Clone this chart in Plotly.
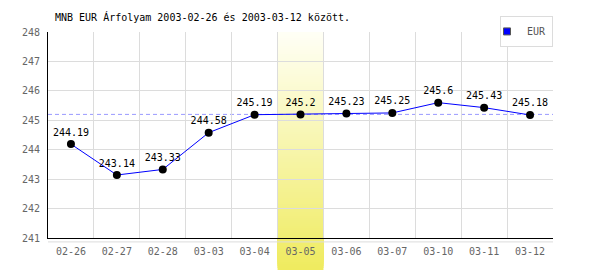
import plotly.graph_objects as go

# ---- data ----
dates = ["02-26", "02-27", "02-28", "03-03", "03-04", "03-05",
         "03-06", "03-07", "03-10", "03-11", "03-12"]
values = [244.19, 243.14, 243.33, 244.58, 245.19, 245.2,
          245.23, 245.25, 245.6, 245.43, 245.18]
series_name = "EUR"
highlight = "03-05"
title_text = "MNB EUR Árfolyam 2003-02-26 és 2003-03-12 között."
y_ticks = [241, 242, 243, 244, 245, 246, 247, 248]

FONT = "DejaVu Sans Mono"
GRID = "#dcdcdc"

n = len(dates)
hi = dates.index(highlight)

fig = go.Figure()

# highlight band with vertical gradient (overlapping strips on whole pixels)
PLOT_H = 206
N = 119
ytop, ybot = 1.0, -32 / PLOT_H
c_top = (255, 255, 246)
c_bot = (239, 235, 94)
for i in reversed(range(N)):
    t = (i + 0.5) / N
    col = tuple(round(c_top[k] + (c_bot[k] - c_top[k]) * t) for k in range(3))
    y0 = ytop - (ytop - ybot) * (i + 1) / N
    fig.add_shape(type="rect", xref="x", yref="paper",
                  x0=hi - 0.5, x1=hi + 0.5, y0=y0, y1=ytop,
                  fillcolor="rgb(%d,%d,%d)" % col, line=dict(width=0),
                  layer="between")

# dashed reference line at the highlighted day's value
fig.add_shape(type="line", xref="paper", yref="y", x0=0, x1=1,
              y0=values[hi], y1=values[hi],
              line=dict(color="#9a9aff", width=1, dash="4px,3px"),
              layer="between")

# thin gray line below the x axis
fig.add_shape(type="line", xref="paper", yref="paper", x0=0, x1=1,
              y0=-0.019, y1=-0.019, line=dict(color=GRID, width=1))

fig.add_trace(go.Scatter(
    x=dates, y=values, mode="lines+markers+text",
    text=[f"{v:g}" for v in values], textposition="top center",
    textfont=dict(family=FONT, size=10, color="black"),
    line=dict(color="#0000ff", width=1),
    marker=dict(color="black", size=8),
    showlegend=False, cliponaxis=False, hoverinfo="skip"))

fig.add_trace(go.Scatter(
    x=[None], y=[None], mode="markers", name=series_name,
    marker=dict(symbol="square", color="#0000ff", size=7,
                line=dict(color="#555555", width=1))))

fig.add_annotation(text=title_text, xref="paper", yref="paper",
                   x=0, y=1, xanchor="left", yanchor="middle",
                   xshift=5, yshift=15, showarrow=False,
                   font=dict(family=FONT, size=10, color="black"))

fig.update_layout(
    template="none",
    width=600, height=270,
    margin=dict(l=48, r=47, t=32, b=32),
    paper_bgcolor="white", plot_bgcolor="white",
    font=dict(family=FONT, size=10, color="#666666"),
    showlegend=True,
    legend=dict(x=1, xanchor="right", y=1.078, yanchor="top",
                bgcolor="white", bordercolor=GRID, borderwidth=1,
                itemwidth=30, indentation=-14,
                font=dict(family=FONT, size=10, color="#555555")),
    xaxis=dict(type="category", categoryorder="array", categoryarray=dates,
               range=[-0.5, n - 0.5], tickson="boundaries",
               showgrid=True, gridcolor=GRID, gridwidth=1, zeroline=False,
               showline=True, linecolor="black", linewidth=1, ticks="",
               ticklabelstandoff=4,
               tickfont=dict(family=FONT, size=10, color="#666666")),
    yaxis=dict(range=[241, 248], tickmode="array", tickvals=y_ticks,
               showgrid=True, gridcolor=GRID, gridwidth=1, zeroline=False,
               showline=True, linecolor="black", linewidth=1, ticks="",
               ticklabelstandoff=5,
               tickfont=dict(family=FONT, size=10, color="#666666")),
)

fig.write_html("out.html")
